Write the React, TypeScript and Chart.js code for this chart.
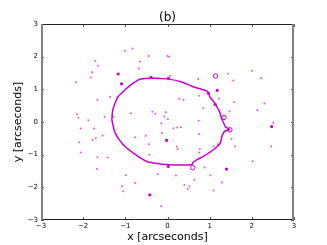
import { useEffect, useRef } from 'react';
import { Chart, registerables } from 'chart.js';

Chart.register(...registerables);

const TITLE = '(b)';
const X_LABEL = 'x [arcseconds]';
const Y_LABEL = 'y [arcseconds]';
const TICKS = [-3, -2, -1, 0, 1, 2, 3];

// Main contour ring (closed)
const ringX = [-1.32, -1.30, -1.25, -1.17, -1.05, -0.97, -0.81, -0.65, -0.34, -0.02, 0.30, 0.61, 0.81, 0.93, 0.98, 1.00, 1.09, 1.17, 1.24, 1.27, 1.32, 1.38, 1.47, 1.36, 1.30, 1.25, 1.09, 0.85, 0.69, 0.60, 0.57, 0.06, -0.20, -0.49, -0.81, -1.05, -1.24, -1.32];
const ringY = [0.07, 0.35, 0.55, 0.78, 0.93, 1.03, 1.19, 1.31, 1.34, 1.32, 1.24, 1.08, 1.00, 0.95, 0.88, 0.78, 0.63, 0.47, 0.30, 0.15, 0.00, -0.15, -0.23, -0.28, -0.40, -0.65, -0.85, -1.05, -1.16, -1.25, -1.31, -1.31, -1.28, -1.21, -0.95, -0.70, -0.34, 0.07];

// Small isolated contour dots
const dotX = [-1.01, -0.83, -0.45, 0.00, 0.04, -1.71, -0.65, -1.65, -0.68, -1.79, -1.82, -2.17, -0.23, 0.06, 0.73, 1.44, 1.56, 2.00, 2.22, -1.36, -1.66, 0.75, 1.22, 1.58, 0.28, 0.38, 0.85, -2.15, -2.11, -1.88, -1.49, -1.28, -0.87, -0.36, -0.29, -0.04, -0.08, -0.15, 0.01, 0.14, 0.23, 0.32, 0.74, 1.47, 2.13, 2.30, 2.51, -2.06, -1.74, -1.78, -1.70, -1.54, -0.77, -0.52, -0.13, 0.75, -0.44, -2.09, -0.43, 0.22, 0.24, 0.77, 0.75, 1.19, 1.09, 1.52, 1.60, -2.06, -1.66, -1.68, -1.42, -0.77, -0.99, -1.08, -1.05, -0.23, 0.20, 0.64, 0.40, 0.52, 0.48, 1.02, 1.29, 1.09, 0.88, 2.02, 2.46, -0.15];
const dotY = [2.18, 2.25, 2.02, 2.02, 2.00, 1.87, 1.85, 1.72, 1.64, 1.52, 1.36, 1.22, 1.34, 1.41, 1.32, 1.48, 1.27, 1.57, 1.35, 0.77, 0.68, 0.80, 0.72, 0.61, 0.71, 0.68, 0.42, 0.24, 0.13, 0.05, 0.16, 0.15, 0.27, 0.31, 0.25, 0.30, 0.17, -0.04, 0.09, -0.19, -0.17, -0.16, 0.04, 0.33, 0.37, 0.57, -0.02, -0.20, -0.20, -0.55, -0.49, -0.41, -0.47, -0.42, -0.34, -0.37, -0.68, -0.62, -1.00, -0.75, -0.83, -0.83, -0.93, -0.68, -0.75, -0.51, -0.75, -0.93, -1.08, -1.44, -1.09, -1.87, -1.63, -1.97, -2.12, -1.59, -1.64, -1.77, -1.93, -1.97, -2.05, -1.63, -1.85, -2.10, -1.39, -1.20, -0.75, -2.58];

// Slightly larger solid blobs
const blobX = [-1.17, -1.09, -0.39, 0.02, 0.97, 1.13, 2.47, 1.40, -0.42, 0.02, -0.02, 1.18];
const blobY = [1.47, 1.17, 1.37, 1.34, 0.88, 0.54, -0.14, -1.44, -2.23, -1.36, -0.56, 0.97];

// Tiny closed loops (hollow)
const loopX = [1.14, 1.34, 1.48, 0.60];
const loopY = [1.41, 0.14, -0.24, -1.40];

const fmt = (v: number) => (v < 0 ? '\u2212' + Math.abs(v) : String(v));

const framePlugin = {
  id: 'frame',
  afterDatasetsDraw(chart: any) {
    const { ctx, chartArea, scales } = chart;
    const { left, right, top, bottom } = chartArea;
    const x = scales.x;
    const y = scales.y;
    ctx.save();
    ctx.strokeStyle = '#555';
    ctx.lineWidth = 1;
    for (const t of TICKS) {
      const px = Math.round(x.getPixelForValue(t)) + 0.5;
      ctx.beginPath();
      ctx.moveTo(px, bottom);
      ctx.lineTo(px, bottom - 3);
      ctx.moveTo(px, top);
      ctx.lineTo(px, top + 3);
      ctx.stroke();
      const py = Math.round(y.getPixelForValue(t)) + 0.5;
      ctx.beginPath();
      ctx.moveTo(left, py);
      ctx.lineTo(left + 3, py);
      ctx.moveTo(right, py);
      ctx.lineTo(right - 3, py);
      ctx.stroke();
    }
    ctx.strokeStyle = '#222';
    ctx.lineWidth = 1;
    ctx.beginPath();
    ctx.moveTo(left, Math.round(top) + 0.5);
    ctx.lineTo(right, Math.round(top) + 0.5);
    ctx.moveTo(left, Math.round(bottom) - 0.5);
    ctx.lineTo(right, Math.round(bottom) - 0.5);
    ctx.stroke();
    ctx.strokeStyle = '#808080';
    ctx.lineWidth = 2;
    ctx.beginPath();
    ctx.moveTo(Math.round(left) + 1, top);
    ctx.lineTo(Math.round(left) + 1, bottom);
    ctx.moveTo(Math.round(right) - 1, top);
    ctx.lineTo(Math.round(right) - 1, bottom);
    ctx.stroke();
    ctx.restore();
  },
};

export default function App() {
  const ref = useRef<HTMLCanvasElement | null>(null);
  useEffect(() => {
    if (!ref.current) return;
    Chart.defaults.font.family = "'DejaVu Sans', sans-serif";
    const toPts = (xs: number[], ys: number[]) => xs.map((v, i) => ({ x: v, y: ys[i] }));
    const chart = new Chart(ref.current, {
      type: 'scatter',
      data: {
        datasets: [
          {
            data: toPts(ringX, ringY),
            showLine: true,
            borderColor: 'rgb(204,0,204)',
            borderWidth: 1.5,
            pointRadius: 0,
            tension: 0.25,
            fill: false,
          },
          {
            data: toPts(dotX, dotY),
            pointRadius: 1,
            pointBackgroundColor: 'rgba(214,60,214,0.85)',
            pointBorderWidth: 0,
          },
          {
            data: toPts(blobX, blobY),
            pointRadius: 1.6,
            pointBackgroundColor: 'rgb(204,0,204)',
            pointBorderWidth: 0,
          },
          {
            data: toPts(loopX, loopY),
            pointRadius: 2.2,
            pointBackgroundColor: 'rgba(255,255,255,0)',
            pointBorderColor: 'rgb(204,0,204)',
            pointBorderWidth: 1,
          },
        ],
      },
      options: {
        animation: false,
        responsive: false,
        layout: { padding: { left: 0, right: 33, top: 0, bottom: 0 } },
        plugins: {
          legend: { display: false },
          tooltip: { enabled: false },
          title: {
            display: true,
            text: TITLE,
            fullSize: false,
            color: '#000',
            font: { size: 12, weight: 'normal', lineHeight: 1 },
            padding: { top: 12, bottom: 0 },
          },
        },
        scales: {
          x: {
            type: 'linear',
            min: -3,
            max: 3,
            afterFit: (s: any) => {
              s.height = 25;
            },
            ticks: { stepSize: 1, color: '#000', font: { size: 7 }, padding: 2, callback: (v: any) => fmt(Number(v)) },
            grid: { display: false, drawTicks: false },
            border: { display: false },
            title: { display: true, text: X_LABEL, color: '#000', font: { size: 11 }, padding: { top: 0, bottom: 1 } },
          },
          y: {
            type: 'linear',
            min: -3,
            max: 3,
            afterFit: (s: any) => {
              s.width = 41;
            },
            ticks: { stepSize: 1, color: '#000', font: { size: 7 }, padding: 3, callback: (v: any) => fmt(Number(v)) },
            grid: { display: false, drawTicks: false },
            border: { display: false },
            title: { display: true, text: Y_LABEL, color: '#000', font: { size: 11 }, padding: { top: 12, bottom: 0 } },
          },
        },
      },
      plugins: [framePlugin],
    });
    return () => chart.destroy();
  }, []);
  return (
    <div style={{ position: 'absolute', left: 0, top: 0, width: 327, height: 245, background: '#fff' }}>
      <canvas ref={ref} width={327} height={245} />
    </div>
  );
}
